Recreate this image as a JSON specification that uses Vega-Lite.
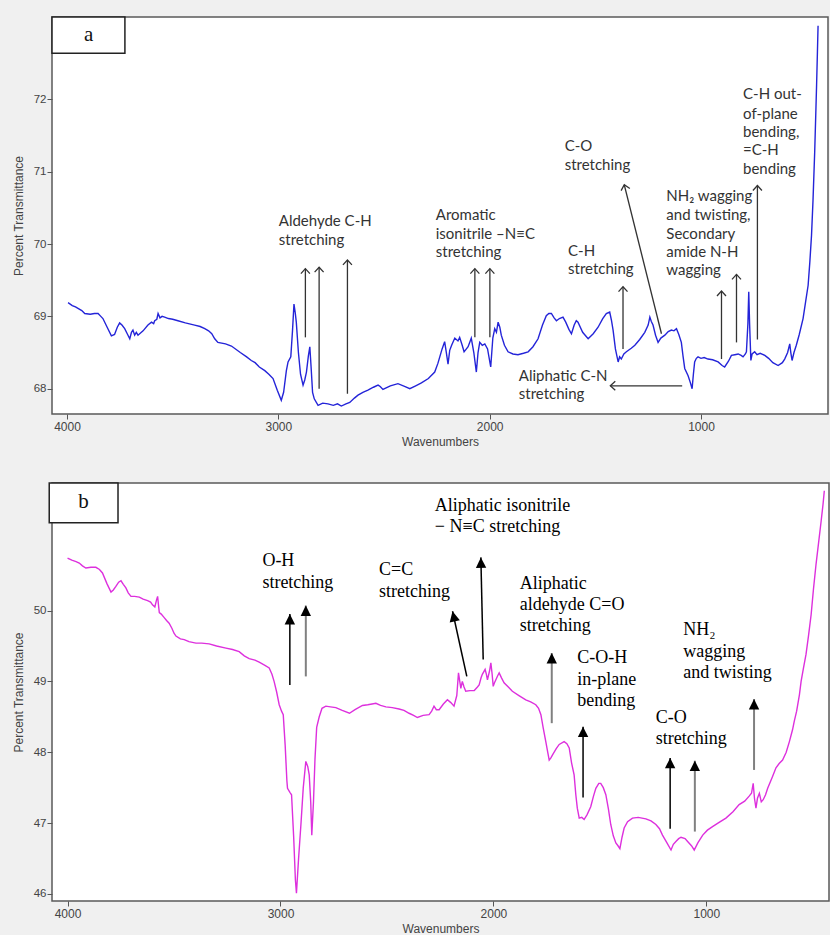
{
  "$schema": "https://vega.github.io/schema/vega-lite/v6.json",
  "background": "#f0f0f0",
  "padding": {"left": 11, "top": 15, "right": 0, "bottom": 0},
  "config": {
    "view": {"fill": "white", "stroke": "#5a5a5a", "strokeWidth": 1.5},
    "axis": {"domain": false, "grid": false, "tickColor": "#555", "tickSize": 5, "labelFont": "Liberation Sans", "labelColor": "#444", "titleFont": "Liberation Sans", "titleColor": "#444", "titleFontWeight": "normal", "titleFontSize": 12},
    "axisX": {"labelFontSize": 12, "labelPadding": 2, "titlePadding": 4},
    "axisY": {"labelFontSize": 11.5, "labelPadding": 1, "titlePadding": 8},
    "concat": {"spacing": 33}
  },
  "datasets": {
    "specA": [
      {"wn":3995,"t":69.19},{"wn":3975,"t":69.15},{"wn":3960,"t":69.13},{"wn":3948,"t":69.11},{"wn":3930,"t":69.08},{"wn":3916,"t":69.04},{"wn":3890,"t":69.03},{"wn":3870,"t":69.04},{"wn":3853,"t":69.04},{"wn":3840,"t":69.0},{"wn":3830,"t":68.97},{"wn":3810,"t":68.85},{"wn":3790,"t":68.73},{"wn":3775,"t":68.75},{"wn":3762,"t":68.85},{"wn":3751,"t":68.91},{"wn":3740,"t":68.88},{"wn":3727,"t":68.83},{"wn":3715,"t":68.76},{"wn":3703,"t":68.69},{"wn":3695,"t":68.78},{"wn":3688,"t":68.81},{"wn":3680,"t":68.74},{"wn":3672,"t":68.78},{"wn":3664,"t":68.74},{"wn":3640,"t":68.8},{"wn":3617,"t":68.88},{"wn":3600,"t":68.92},{"wn":3590,"t":68.9},{"wn":3585,"t":68.94},{"wn":3575,"t":68.96},{"wn":3569,"t":69.04},{"wn":3560,"t":68.98},{"wn":3550,"t":69.0},{"wn":3538,"t":68.99},{"wn":3520,"t":68.97},{"wn":3500,"t":68.96},{"wn":3475,"t":68.94},{"wn":3440,"t":68.91},{"wn":3396,"t":68.88},{"wn":3370,"t":68.86},{"wn":3348,"t":68.83},{"wn":3330,"t":68.8},{"wn":3315,"t":68.76},{"wn":3301,"t":68.69},{"wn":3286,"t":68.64},{"wn":3250,"t":68.62},{"wn":3222,"t":68.59},{"wn":3180,"t":68.5},{"wn":3150,"t":68.44},{"wn":3128,"t":68.39},{"wn":3110,"t":68.36},{"wn":3090,"t":68.3},{"wn":3064,"t":68.25},{"wn":3045,"t":68.2},{"wn":3025,"t":68.14},{"wn":3005,"t":67.98},{"wn":2986,"t":67.84},{"wn":2975,"t":67.95},{"wn":2962,"t":68.25},{"wn":2954,"t":68.37},{"wn":2941,"t":68.44},{"wn":2933,"t":68.8},{"wn":2926,"t":69.17},{"wn":2920,"t":69.05},{"wn":2915,"t":68.92},{"wn":2905,"t":68.5},{"wn":2895,"t":68.2},{"wn":2883,"t":68.05},{"wn":2875,"t":68.12},{"wn":2867,"t":68.23},{"wn":2858,"t":68.45},{"wn":2851,"t":68.58},{"wn":2845,"t":68.3},{"wn":2838,"t":67.95},{"wn":2830,"t":67.86},{"wn":2812,"t":67.77},{"wn":2790,"t":67.8},{"wn":2765,"t":67.79},{"wn":2740,"t":67.77},{"wn":2720,"t":67.79},{"wn":2702,"t":67.76},{"wn":2680,"t":67.79},{"wn":2662,"t":67.81},{"wn":2640,"t":67.87},{"wn":2623,"t":67.91},{"wn":2600,"t":67.95},{"wn":2576,"t":67.98},{"wn":2550,"t":68.02},{"wn":2528,"t":68.05},{"wn":2518,"t":68.03},{"wn":2505,"t":67.99},{"wn":2470,"t":68.04},{"wn":2434,"t":68.07},{"wn":2400,"t":68.03},{"wn":2378,"t":68.0},{"wn":2350,"t":68.04},{"wn":2323,"t":68.08},{"wn":2290,"t":68.14},{"wn":2260,"t":68.23},{"wn":2245,"t":68.35},{"wn":2236,"t":68.44},{"wn":2225,"t":68.55},{"wn":2213,"t":68.65},{"wn":2205,"t":68.5},{"wn":2197,"t":68.34},{"wn":2189,"t":68.53},{"wn":2180,"t":68.6},{"wn":2165,"t":68.7},{"wn":2150,"t":68.66},{"wn":2142,"t":68.71},{"wn":2130,"t":68.6},{"wn":2121,"t":68.51},{"wn":2110,"t":68.55},{"wn":2102,"t":68.58},{"wn":2092,"t":68.66},{"wn":2087,"t":68.7},{"wn":2075,"t":68.5},{"wn":2063,"t":68.23},{"wn":2055,"t":68.5},{"wn":2047,"t":68.64},{"wn":2035,"t":68.6},{"wn":2023,"t":68.62},{"wn":2010,"t":68.55},{"wn":1995,"t":68.3},{"wn":1985,"t":68.7},{"wn":1976,"t":68.83},{"wn":1968,"t":68.78},{"wn":1960,"t":68.92},{"wn":1952,"t":68.85},{"wn":1945,"t":68.74},{"wn":1930,"t":68.6},{"wn":1913,"t":68.51},{"wn":1890,"t":68.48},{"wn":1866,"t":68.47},{"wn":1840,"t":68.49},{"wn":1818,"t":68.51},{"wn":1795,"t":68.58},{"wn":1771,"t":68.69},{"wn":1750,"t":68.88},{"wn":1732,"t":69.01},{"wn":1720,"t":69.04},{"wn":1708,"t":69.04},{"wn":1695,"t":68.98},{"wn":1684,"t":68.94},{"wn":1670,"t":68.97},{"wn":1653,"t":68.99},{"wn":1640,"t":68.92},{"wn":1625,"t":68.82},{"wn":1613,"t":68.76},{"wn":1600,"t":68.88},{"wn":1590,"t":68.94},{"wn":1582,"t":68.92},{"wn":1560,"t":68.78},{"wn":1534,"t":68.69},{"wn":1510,"t":68.76},{"wn":1487,"t":68.85},{"wn":1465,"t":68.97},{"wn":1448,"t":69.04},{"wn":1432,"t":69.06},{"wn":1424,"t":68.95},{"wn":1416,"t":68.81},{"wn":1405,"t":68.55},{"wn":1392,"t":68.37},{"wn":1385,"t":68.44},{"wn":1377,"t":68.41},{"wn":1365,"t":68.48},{"wn":1353,"t":68.51},{"wn":1330,"t":68.56},{"wn":1313,"t":68.6},{"wn":1290,"t":68.68},{"wn":1266,"t":68.78},{"wn":1250,"t":68.88},{"wn":1242,"t":68.99},{"wn":1235,"t":68.93},{"wn":1227,"t":68.88},{"wn":1215,"t":68.74},{"wn":1203,"t":68.64},{"wn":1190,"t":68.7},{"wn":1171,"t":68.74},{"wn":1155,"t":68.79},{"wn":1140,"t":68.81},{"wn":1128,"t":68.8},{"wn":1116,"t":68.83},{"wn":1105,"t":68.75},{"wn":1093,"t":68.64},{"wn":1085,"t":68.45},{"wn":1077,"t":68.28},{"wn":1061,"t":68.18},{"wn":1050,"t":68.08},{"wn":1042,"t":68.0},{"wn":1036,"t":68.2},{"wn":1030,"t":68.37},{"wn":1022,"t":68.42},{"wn":1014,"t":68.44},{"wn":1000,"t":68.42},{"wn":985,"t":68.43},{"wn":967,"t":68.41},{"wn":945,"t":68.4},{"wn":919,"t":68.37},{"wn":900,"t":68.32},{"wn":888,"t":68.3},{"wn":870,"t":68.38},{"wn":856,"t":68.46},{"wn":840,"t":68.47},{"wn":824,"t":68.48},{"wn":810,"t":68.46},{"wn":801,"t":68.44},{"wn":790,"t":68.48},{"wn":785,"t":68.51},{"wn":778,"t":68.9},{"wn":774,"t":69.34},{"wn":770,"t":68.9},{"wn":764,"t":68.39},{"wn":758,"t":68.48},{"wn":746,"t":68.51},{"wn":735,"t":68.47},{"wn":720,"t":68.49},{"wn":698,"t":68.46},{"wn":680,"t":68.42},{"wn":660,"t":68.36},{"wn":635,"t":68.32},{"wn":615,"t":68.36},{"wn":604,"t":68.41},{"wn":590,"t":68.5},{"wn":580,"t":68.62},{"wn":575,"t":68.5},{"wn":569,"t":68.39},{"wn":560,"t":68.5},{"wn":549,"t":68.6},{"wn":535,"t":68.75},{"wn":517,"t":68.97},{"wn":505,"t":69.2},{"wn":493,"t":69.43},{"wn":485,"t":69.75},{"wn":477,"t":70.12},{"wn":470,"t":70.6},{"wn":462,"t":71.27},{"wn":457,"t":71.78},{"wn":453,"t":72.2},{"wn":449,"t":72.66},{"wn":446,"t":73.02}
    ],
    "specB": [
      {"wn":4000,"t":50.74},{"wn":3980,"t":50.71},{"wn":3960,"t":50.69},{"wn":3945,"t":50.67},{"wn":3930,"t":50.63},{"wn":3914,"t":50.6},{"wn":3890,"t":50.61},{"wn":3867,"t":50.61},{"wn":3850,"t":50.58},{"wn":3836,"t":50.53},{"wn":3815,"t":50.38},{"wn":3796,"t":50.26},{"wn":3785,"t":50.29},{"wn":3773,"t":50.34},{"wn":3760,"t":50.4},{"wn":3749,"t":50.42},{"wn":3738,"t":50.37},{"wn":3726,"t":50.32},{"wn":3715,"t":50.25},{"wn":3702,"t":50.2},{"wn":3685,"t":50.2},{"wn":3663,"t":50.19},{"wn":3645,"t":50.16},{"wn":3624,"t":50.14},{"wn":3610,"t":50.12},{"wn":3601,"t":50.08},{"wn":3590,"t":50.05},{"wn":3582,"t":50.15},{"wn":3577,"t":50.2},{"wn":3572,"t":50.05},{"wn":3569,"t":49.97},{"wn":3560,"t":49.95},{"wn":3546,"t":49.9},{"wn":3535,"t":49.86},{"wn":3523,"t":49.82},{"wn":3510,"t":49.75},{"wn":3500,"t":49.68},{"wn":3491,"t":49.64},{"wn":3470,"t":49.6},{"wn":3452,"t":49.59},{"wn":3430,"t":49.56},{"wn":3397,"t":49.54},{"wn":3370,"t":49.54},{"wn":3335,"t":49.53},{"wn":3300,"t":49.5},{"wn":3256,"t":49.47},{"wn":3225,"t":49.45},{"wn":3194,"t":49.42},{"wn":3170,"t":49.36},{"wn":3147,"t":49.32},{"wn":3120,"t":49.3},{"wn":3100,"t":49.27},{"wn":3075,"t":49.23},{"wn":3053,"t":49.19},{"wn":3040,"t":49.1},{"wn":3030,"t":49.0},{"wn":3018,"t":48.85},{"wn":3006,"t":48.67},{"wn":2995,"t":48.58},{"wn":2987,"t":48.53},{"wn":2978,"t":48.1},{"wn":2970,"t":47.6},{"wn":2967,"t":47.49},{"wn":2955,"t":47.43},{"wn":2948,"t":47.4},{"wn":2938,"t":46.8},{"wn":2930,"t":46.2},{"wn":2925,"t":46.01},{"wn":2915,"t":46.5},{"wn":2904,"t":46.98},{"wn":2893,"t":47.5},{"wn":2881,"t":47.87},{"wn":2872,"t":47.8},{"wn":2865,"t":47.68},{"wn":2858,"t":47.3},{"wn":2853,"t":46.83},{"wn":2845,"t":47.3},{"wn":2838,"t":47.9},{"wn":2830,"t":48.35},{"wn":2818,"t":48.5},{"wn":2805,"t":48.62},{"wn":2787,"t":48.65},{"wn":2765,"t":48.64},{"wn":2740,"t":48.63},{"wn":2710,"t":48.59},{"wn":2676,"t":48.55},{"wn":2650,"t":48.6},{"wn":2615,"t":48.66},{"wn":2590,"t":48.67},{"wn":2570,"t":48.68},{"wn":2552,"t":48.69},{"wn":2530,"t":48.66},{"wn":2505,"t":48.64},{"wn":2475,"t":48.63},{"wn":2443,"t":48.61},{"wn":2420,"t":48.59},{"wn":2396,"t":48.55},{"wn":2375,"t":48.52},{"wn":2357,"t":48.49},{"wn":2330,"t":48.52},{"wn":2302,"t":48.53},{"wn":2290,"t":48.58},{"wn":2279,"t":48.65},{"wn":2268,"t":48.6},{"wn":2255,"t":48.6},{"wn":2235,"t":48.68},{"wn":2216,"t":48.74},{"wn":2200,"t":48.7},{"wn":2185,"t":48.65},{"wn":2172,"t":48.8},{"wn":2164,"t":49.12},{"wn":2158,"t":49.0},{"wn":2153,"t":48.9},{"wn":2146,"t":49.0},{"wn":2138,"t":48.92},{"wn":2130,"t":48.86},{"wn":2110,"t":48.87},{"wn":2090,"t":48.87},{"wn":2075,"t":48.92},{"wn":2067,"t":48.95},{"wn":2058,"t":49.05},{"wn":2052,"t":49.1},{"wn":2039,"t":49.17},{"wn":2033,"t":49.1},{"wn":2028,"t":49.02},{"wn":2018,"t":49.15},{"wn":2012,"t":49.26},{"wn":2006,"t":49.1},{"wn":2001,"t":48.93},{"wn":1995,"t":48.98},{"wn":1989,"t":49.02},{"wn":1980,"t":49.08},{"wn":1973,"t":49.12},{"wn":1962,"t":49.05},{"wn":1950,"t":48.98},{"wn":1930,"t":48.92},{"wn":1911,"t":48.86},{"wn":1880,"t":48.8},{"wn":1848,"t":48.74},{"wn":1825,"t":48.71},{"wn":1801,"t":48.67},{"wn":1788,"t":48.62},{"wn":1777,"t":48.53},{"wn":1766,"t":48.34},{"wn":1754,"t":48.15},{"wn":1745,"t":48.0},{"wn":1738,"t":47.89},{"wn":1730,"t":47.92},{"wn":1723,"t":47.96},{"wn":1705,"t":48.05},{"wn":1691,"t":48.11},{"wn":1668,"t":48.15},{"wn":1655,"t":48.12},{"wn":1644,"t":48.06},{"wn":1633,"t":47.85},{"wn":1621,"t":47.68},{"wn":1613,"t":47.4},{"wn":1606,"t":47.21},{"wn":1597,"t":47.07},{"wn":1585,"t":47.08},{"wn":1574,"t":47.05},{"wn":1560,"t":47.12},{"wn":1543,"t":47.23},{"wn":1530,"t":47.38},{"wn":1519,"t":47.49},{"wn":1505,"t":47.56},{"wn":1496,"t":47.56},{"wn":1484,"t":47.5},{"wn":1472,"t":47.4},{"wn":1460,"t":47.2},{"wn":1449,"t":46.98},{"wn":1437,"t":46.82},{"wn":1425,"t":46.72},{"wn":1415,"t":46.68},{"wn":1406,"t":46.64},{"wn":1396,"t":46.8},{"wn":1386,"t":46.93},{"wn":1370,"t":47.02},{"wn":1347,"t":47.07},{"wn":1320,"t":47.08},{"wn":1284,"t":47.06},{"wn":1260,"t":47.03},{"wn":1237,"t":46.98},{"wn":1220,"t":46.92},{"wn":1206,"t":46.83},{"wn":1185,"t":46.72},{"wn":1166,"t":46.62},{"wn":1155,"t":46.7},{"wn":1143,"t":46.74},{"wn":1130,"t":46.78},{"wn":1119,"t":46.8},{"wn":1100,"t":46.78},{"wn":1088,"t":46.74},{"wn":1070,"t":46.68},{"wn":1057,"t":46.62},{"wn":1040,"t":46.72},{"wn":1017,"t":46.83},{"wn":995,"t":46.9},{"wn":971,"t":46.95},{"wn":940,"t":47.01},{"wn":908,"t":47.07},{"wn":875,"t":47.16},{"wn":846,"t":47.26},{"wn":820,"t":47.31},{"wn":799,"t":47.38},{"wn":788,"t":47.42},{"wn":780,"t":47.56},{"wn":774,"t":47.35},{"wn":767,"t":47.21},{"wn":760,"t":47.35},{"wn":751,"t":47.42},{"wn":742,"t":47.3},{"wn":733,"t":47.33},{"wn":722,"t":47.4},{"wn":712,"t":47.49},{"wn":690,"t":47.65},{"wn":673,"t":47.78},{"wn":658,"t":47.84},{"wn":642,"t":47.89},{"wn":625,"t":48.0},{"wn":610,"t":48.15},{"wn":595,"t":48.32},{"wn":587,"t":48.44},{"wn":576,"t":48.58},{"wn":563,"t":48.81},{"wn":555,"t":49.0},{"wn":545,"t":49.17},{"wn":532,"t":49.38},{"wn":520,"t":49.65},{"wn":508,"t":49.94},{"wn":497,"t":50.3},{"wn":485,"t":50.65},{"wn":472,"t":50.98},{"wn":461,"t":51.26},{"wn":452,"t":51.5},{"wn":446,"t":51.69}
    ],
    "arrowsA": [
      {"id":"a1","wn":2872,"t":69.66,"wn2":2872,"t2":68.71},
      {"id":"a2","wn":2807,"t":69.68,"wn2":2807,"t2":68.0},
      {"id":"a3","wn":2673,"t":69.78,"wn2":2673,"t2":67.93},
      {"id":"a4","wn":2070,"t":69.66,"wn2":2070,"t2":68.71},
      {"id":"a5","wn":1999,"t":69.66,"wn2":1999,"t2":68.71},
      {"id":"ch","wn":1369,"t":69.41,"wn2":1369,"t2":68.55},
      {"id":"co","wn":1363,"t":70.82,"wn2":1187,"t2":68.76},
      {"id":"nh1","wn":903,"t":69.35,"wn2":903,"t2":68.41},
      {"id":"nh2","wn":832,"t":69.58,"wn2":832,"t2":68.64},
      {"id":"oop","wn":733,"t":70.81,"wn2":733,"t2":68.68},
      {"id":"cn","wn":1429,"t":68.04,"wn2":1089,"t2":68.04}
    ],
    "arrowsB": [
      {"id":"oh1","wn":2956,"t":49.95,"wn2":2956,"t2":48.95},
      {"id":"oh2","wn":2881,"t":50.07,"wn2":2881,"t2":49.07},
      {"id":"cc","wn":2192,"t":49.99,"wn2":2125,"t2":49.07},
      {"id":"iso","wn":2059,"t":50.75,"wn2":2048,"t2":49.31},
      {"id":"ald","wn":1726,"t":49.4,"wn2":1726,"t2":48.41},
      {"id":"coh","wn":1579,"t":48.36,"wn2":1579,"t2":47.36},
      {"id":"co1","wn":1170,"t":47.92,"wn2":1170,"t2":46.92},
      {"id":"co2","wn":1054,"t":47.88,"wn2":1054,"t2":46.88},
      {"id":"nh","wn":776,"t":48.75,"wn2":776,"t2":47.75}
    ],
    "textA": [
      {"wn":2998,"t":70.32,"line":"Aldehyde C-H"},
      {"wn":2998,"t":70.06,"line":"stretching"},
      {"wn":2255,"t":70.4,"line":"Aromatic"},
      {"wn":2255,"t":70.14,"line":"isonitrile –N≡C"},
      {"wn":2255,"t":69.89,"line":"stretching"},
      {"wn":1645,"t":71.36,"line":"C-O"},
      {"wn":1645,"t":71.1,"line":"stretching"},
      {"wn":1629,"t":69.91,"line":"C-H"},
      {"wn":1629,"t":69.66,"line":"stretching"},
      {"wn":1164,"t":70.66,"line":"NH₂ wagging"},
      {"wn":1164,"t":70.4,"line":"and twisting,"},
      {"wn":1164,"t":70.14,"line":"Secondary"},
      {"wn":1164,"t":69.89,"line":"amide N-H"},
      {"wn":1164,"t":69.64,"line":"wagging"},
      {"wn":801,"t":72.07,"line":"C-H out-"},
      {"wn":801,"t":71.8,"line":"of-plane"},
      {"wn":801,"t":71.55,"line":"bending,"},
      {"wn":801,"t":71.3,"line":"=C-H"},
      {"wn":801,"t":71.04,"line":"bending"},
      {"wn":1862,"t":68.17,"line":"Aliphatic C-N"},
      {"wn":1862,"t":67.92,"line":"stretching"}
    ],
    "textB": [
      {"wn":3085,"t":50.7,"line":"O-H"},
      {"wn":3085,"t":50.39,"line":"stretching"},
      {"wn":2537,"t":50.57,"line":"C=C"},
      {"wn":2537,"t":50.26,"line":"stretching"},
      {"wn":2275,"t":51.47,"line":"Aliphatic isonitrile"},
      {"wn":2275,"t":51.18,"line":"− N≡C stretching"},
      {"wn":1876,"t":50.38,"line":"Aliphatic"},
      {"wn":1876,"t":50.08,"line":"aldehyde C=O"},
      {"wn":1876,"t":49.78,"line":"stretching"},
      {"wn":1606,"t":49.33,"line":"C-O-H"},
      {"wn":1606,"t":49.02,"line":"in-plane"},
      {"wn":1606,"t":48.73,"line":"bending"},
      {"wn":1238,"t":48.48,"line":"C-O"},
      {"wn":1238,"t":48.18,"line":"stretching"},
      {"wn":1109,"t":49.72,"line":"NH₂"},
      {"wn":1109,"t":49.41,"line":"wagging"},
      {"wn":1109,"t":49.12,"line":"and twisting"}
    ]
  },
  "vconcat": [
    {
      "width": 776,
      "height": 397,
      "encoding": {
        "x": {"field": "wn", "type": "quantitative", "scale": {"domain": [399, 4071], "reverse": true, "nice": false, "zero": false}, "axis": {"values": [1000, 2000, 3000, 4000], "format": "d", "title": "Wavenumbers"}},
        "y": {"field": "t", "type": "quantitative", "scale": {"domain": [67.65, 73.14], "nice": false, "zero": false}, "axis": {"values": [68, 69, 70, 71, 72], "format": "d", "title": "Percent Transmittance"}}
      },
      "layer": [
        {"data": {"name": "specA"}, "mark": {"type": "line", "color": "#2424d8", "strokeWidth": 1.4}},
        {"data": {"name": "arrowsA"}, "mark": {"type": "rule", "color": "#333", "strokeWidth": 1.3}, "encoding": {"x2": {"field": "wn2"}, "y2": {"field": "t2"}}},
        {"data": {"name": "arrowsA"}, "transform": [{"filter": {"field": "id", "oneOf": ["a1","a2","a3","a4","a5","ch","nh1","nh2","oop"]}}], "mark": {"type": "point", "shape": "M-1,1.1L0,0L1,1.1", "filled": false, "color": "#333", "strokeWidth": 1.3, "size": 81, "opacity": 1}},
        {"data": {"name": "arrowsA"}, "transform": [{"filter": {"field": "id", "equal": "co"}}], "mark": {"type": "point", "shape": "M-1,1.1L0,0L1,1.1", "filled": false, "color": "#333", "strokeWidth": 1.3, "size": 81, "opacity": 1, "angle": 346}},
        {"data": {"name": "arrowsA"}, "transform": [{"filter": {"field": "id", "equal": "cn"}}], "mark": {"type": "point", "shape": "M-1,1.1L0,0L1,1.1", "filled": false, "color": "#333", "strokeWidth": 1.3, "size": 81, "opacity": 1, "angle": 270}},
        {"data": {"name": "textA"}, "mark": {"type": "text", "align": "left", "baseline": "middle", "font": "Lato", "fontSize": 15, "color": "#333"}, "encoding": {"text": {"field": "line"}}},
        {"data": {"values": [{"wn": 4071, "t": 73.14, "wn2": 3726, "t2": 72.64}]}, "mark": {"type": "rect", "fill": "white", "stroke": "#222", "strokeWidth": 1.5}, "encoding": {"x2": {"field": "wn2"}, "y2": {"field": "t2"}}},
        {"data": {"values": [{"wn": 3898, "t": 72.89, "line": "a"}]}, "mark": {"type": "text", "align": "center", "baseline": "middle", "font": "Liberation Serif", "fontSize": 21, "color": "#111"}, "encoding": {"text": {"field": "line"}}}
      ]
    },
    {
      "width": 777,
      "height": 418,
      "encoding": {
        "x": {"field": "wn", "type": "quantitative", "scale": {"domain": [424, 4073], "reverse": true, "nice": false, "zero": false}, "axis": {"values": [1000, 2000, 3000, 4000], "format": "d", "title": "Wavenumbers"}},
        "y": {"field": "t", "type": "quantitative", "scale": {"domain": [45.9, 51.8], "nice": false, "zero": false}, "axis": {"values": [46, 47, 48, 49, 50], "format": "d", "title": "Percent Transmittance"}}
      },
      "layer": [
        {"data": {"name": "specB"}, "mark": {"type": "line", "color": "#dd30dd", "strokeWidth": 1.4}},
        {"data": {"name": "arrowsB"}, "transform": [{"filter": {"field": "id", "oneOf": ["oh1","cc","iso","coh","co1"]}}], "mark": {"type": "rule", "color": "#000", "strokeWidth": 1.5}, "encoding": {"x2": {"field": "wn2"}, "y2": {"field": "t2"}}},
        {"data": {"name": "arrowsB"}, "transform": [{"filter": {"field": "id", "oneOf": ["oh2","ald","co2","nh"]}}], "mark": {"type": "rule", "color": "#808080", "strokeWidth": 2}, "encoding": {"x2": {"field": "wn2"}, "y2": {"field": "t2"}}},
        {"data": {"name": "arrowsB"}, "transform": [{"filter": {"field": "id", "oneOf": ["oh1","oh2","ald","coh","co1","co2","nh"]}}], "mark": {"type": "point", "shape": "M-1,2L0,0L1,2Z", "filled": true, "color": "#000", "size": 108, "opacity": 1}},
        {"data": {"name": "arrowsB"}, "transform": [{"filter": {"field": "id", "equal": "cc"}}], "mark": {"type": "point", "shape": "M-1,2L0,0L1,2Z", "filled": true, "color": "#000", "size": 108, "opacity": 1, "angle": 347.5}},
        {"data": {"name": "arrowsB"}, "transform": [{"filter": {"field": "id", "equal": "iso"}}], "mark": {"type": "point", "shape": "M-1,2L0,0L1,2Z", "filled": true, "color": "#000", "size": 108, "opacity": 1, "angle": 358.7}},
        {"data": {"name": "textB"}, "mark": {"type": "text", "align": "left", "baseline": "middle", "font": "Liberation Serif", "fontSize": 18, "color": "#000"}, "encoding": {"text": {"field": "line"}}},
        {"data": {"values": [{"wn": 4086, "t": 51.8, "wn2": 3763, "t2": 51.24}]}, "mark": {"type": "rect", "fill": "white", "stroke": "#222", "strokeWidth": 1.5}, "encoding": {"x2": {"field": "wn2"}, "y2": {"field": "t2"}}},
        {"data": {"values": [{"wn": 3925, "t": 51.53, "line": "b"}]}, "mark": {"type": "text", "align": "center", "baseline": "middle", "font": "Liberation Serif", "fontSize": 21, "color": "#111"}, "encoding": {"text": {"field": "line"}}}
      ]
    }
  ]
}
